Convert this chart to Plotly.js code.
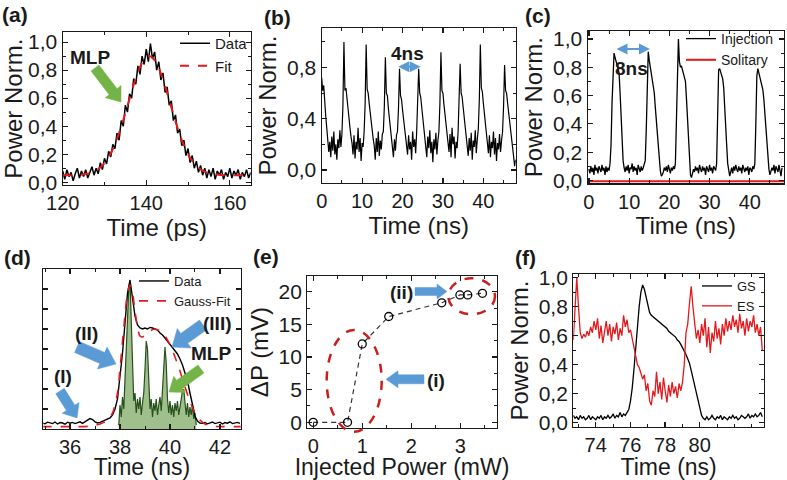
<!DOCTYPE html>
<html><head><meta charset="utf-8">
<script src="https://cdn.plot.ly/plotly-3.0.1.min.js"></script>
<style>html,body{margin:0;padding:0;background:#fff}#chart{width:787px;height:480px}</style>
</head><body><div id="chart"></div>
<script>
// ---------- DATA ----------
// (a) mode-locked pulse, time in ps, sampled every 0.5 ps from 120 ps
const aT0 = 120, aDT = 0.5;
const aData = [0.08,0.02,0.09,0.04,0.07,0.01,0.06,0.10,0.03,0.08,
 0.04,0.09,0.03,0.07,0.11,0.05,0.10,0.06,0.14,0.09,
 0.17,0.13,0.22,0.18,0.27,0.24,0.35,0.30,0.44,0.40,
 0.55,0.50,0.63,0.60,0.74,0.70,0.83,0.77,0.90,0.84,
 0.95,0.86,0.99,0.88,0.93,0.80,0.86,0.73,0.78,0.64,
 0.68,0.55,0.58,0.44,0.48,0.35,0.38,0.26,0.30,0.19,
 0.24,0.14,0.19,0.10,0.15,0.07,0.12,0.05,0.10,0.03,
 0.09,0.04,0.10,0.02,0.08,0.05,0.09,0.02,0.07,0.04,
 0.10,0.03,0.08,0.05,0.09,0.02,0.07,0.04,0.09,0.03,
 0.07];
const aFitT0 = 120, aFitDT = 1;
const aFit = [0.05,0.05,0.05,0.05,0.053,0.056,0.061,0.07,0.084,0.105,
 0.136,0.179,0.237,0.31,0.396,0.494,0.596,0.696,0.784,0.853,
 0.892,0.898,0.872,0.815,0.733,0.637,0.535,0.434,0.342,0.264,
 0.20,0.152,0.116,0.092,0.075,0.064,0.058,0.055,0.052,0.05,
 0.05,0.05,0.05,0.05,0.05,0.05];

// (b) pulse train, ns, every 0.25 ns from 0
const bT0 = 0, bDT = 0.25;
const bData = [0.72,0.62,0.66,0.50,0.42,0.33,0.25,0.14,
 0.22,0.10,0.26,0.15,0.30,0.12,0.20,0.08,0.24,0.17,0.31,0.18,
 0.28,0.50,1.00,0.62,0.64,0.55,0.47,0.40,0.33,0.26,0.21,
 0.12,0.27,0.09,0.22,0.16,0.33,0.14,0.25,0.07,0.21,0.18,
 0.30,0.52,0.98,0.63,0.60,0.52,0.44,0.37,0.30,0.24,0.19,
 0.08,0.25,0.14,0.30,0.11,0.23,0.16,0.28,
 0.30,0.50,0.88,0.60,0.58,0.48,0.40,0.33,0.25,0.20,
 0.10,0.24,0.15,0.27,
 0.30,0.48,0.79,0.58,0.55,0.47,0.40,0.33,0.26,0.21,
 0.12,0.27,0.16,0.22,0.08,0.30,0.18,0.24,0.13,
 0.30,0.50,0.79,0.60,0.57,0.49,0.41,0.34,0.27,0.21,
 0.10,0.26,0.17,0.31,0.13,0.22,0.06,0.24,0.16,0.29,0.12,0.23,
 0.30,0.52,0.92,0.62,0.60,0.51,0.43,0.36,0.29,0.22,
 0.14,0.28,0.10,0.33,0.20,0.26,0.09,0.22,0.17,
 0.30,0.50,0.83,0.60,0.57,0.49,0.41,0.34,0.27,0.21,
 0.11,0.25,0.15,0.29,0.08,0.23,0.18,0.31,0.13,0.24,
 0.32,0.55,0.98,0.64,0.61,0.52,0.44,0.36,0.29,0.22,
 0.13,0.27,0.10,0.22,0.17,0.30,0.12,0.25,0.07,0.21,0.16,0.28,0.14,0.23,
 0.30,0.50,0.82,0.62,0.60,0.52,0.45,0.38,0.31,0.25,0.18,0.10,0.03,0.08];

// (c) injection vs solitary, ns, every 0.25 ns from 0
const cT0 = 0, cDT = 0.25;
const cInjection = [0.08,0.05,0.10,0.06,0.09,0.04,0.11,0.07,0.09,0.05,0.10,0.08,0.06,0.11,0.07,0.09,0.04,0.10,0.06,0.09,0.07,0.12,
 0.25,0.55,0.82,0.90,0.87,0.84,0.82,0.80,0.76,0.62,0.42,0.25,0.14,0.09,
 0.06,0.10,0.07,0.11,0.05,0.09,0.08,0.12,0.06,0.10,0.07,0.09,0.04,0.11,0.08,0.06,0.10,0.07,0.09,0.11,0.14,
 0.35,0.72,0.91,0.85,0.80,0.76,0.72,0.68,0.62,0.52,0.42,0.32,0.22,0.14,0.07,0.03,
 0.04,0.06,0.09,0.07,0.10,0.06,0.11,0.08,0.05,0.09,0.07,0.10,0.08,0.12,
 0.40,0.85,1.00,0.84,0.80,0.81,0.78,0.77,0.74,0.70,0.58,0.42,0.26,0.12,0.04,0.02,
 0.05,0.08,0.06,0.10,0.07,0.09,0.05,0.11,0.08,0.06,0.10,0.07,0.09,0.04,0.10,0.08,0.06,0.11,0.07,0.09,0.05,0.10,0.08,0.07,0.12,
 0.45,0.78,0.79,0.76,0.74,0.72,0.66,0.55,0.40,0.25,0.12,0.05,0.03,
 0.06,0.09,0.05,0.10,0.07,0.11,0.08,0.06,0.10,0.07,0.09,0.05,0.11,0.08,0.06,0.09,0.07,0.10,0.04,0.09,0.08,0.06,0.10,0.08,0.12,
 0.40,0.74,0.79,0.76,0.74,0.71,0.68,0.64,0.57,0.47,0.36,0.25,0.15,0.08,0.04,
 0.06,0.09,0.07,0.11,0.05,0.10,0.08,0.06,0.11,0.07,0.03,0.09];
const cSolitaryT = [0, 12, 24, 36, 48.5];
const cSolitary = [-0.005, -0.005, -0.005, -0.005, -0.005];

// (d) data, Gauss fit and MLP trace, ns
const dT0 = 34.9, dDT = 0.1;
const dData = [0.03,0.026,0.034,0.029,0.027,0.035,0.025,0.032,0.03,0.024,
 0.034,0.029,0.033,0.027,0.031,0.036,0.028,0.034,0.044,0.052,
 0.047,0.036,0.03,0.033,0.038,0.042,0.048,
 0.055,0.07,0.10,0.15,0.25,0.38,0.53,0.68,0.745,0.64,
 0.565,0.52,0.505,0.50,0.505,0.50,0.508,0.505,0.50,0.495,
 0.48,0.47,0.455,0.44,0.42,0.405,0.39,0.375,0.35,0.32,
 0.28,0.24,0.18,0.12,0.065,0.04,0.03,
 0.028,0.033,0.026,0.031,0.035,0.027,0.03,0.034,0.025,0.032,0.029,0.036,0.027,0.031,0.033,0.028];
const dFitT = [34.9,36.0,36.8,37.2,37.5,37.7,37.9,38.0,38.1,38.2,38.3,38.4,38.5,38.6,38.7,38.8,38.9,39.0,39.2,39.4,39.6,39.8,40.0,40.2,40.4,40.6,40.8,41.0,41.2,41.4,41.7,42.0,42.9];
const dFit = [0.012,0.012,0.014,0.025,0.045,0.08,0.18,0.30,0.44,0.57,0.68,0.72,0.68,0.59,0.51,0.465,0.46,0.47,0.49,0.50,0.49,0.465,0.42,0.36,0.29,0.21,0.14,0.08,0.045,0.025,0.014,0.012,0.012];
const dMlpT0 = 37.95, dMlpDT = 0.05;
const dMLP = [0.02,0.12,0.06,0.16,0.10,0.25,0.38,0.55,0.70,0.74,
 0.55,0.30,0.14,0.18,0.08,0.15,0.10,0.16,0.07,0.13,
 0.18,0.30,0.44,0.40,0.22,0.10,0.15,0.06,0.13,0.09,
 0.15,0.07,0.12,0.16,0.09,0.18,0.32,0.41,0.33,0.15,
 0.08,0.14,0.07,0.12,0.06,0.13,0.09,0.14,0.07,0.11,
 0.15,0.19,0.20,0.12,0.07,0.13,0.06,0.11,0.07,0.12,
 0.05,0.08,0.02];

// (e) ΔP vs injected power
const eInjected = [0, 0.70, 1.0, 1.54, 2.62, 2.99, 3.15, 3.45];
const eDeltaP = [0, 0, 12.0, 16.2, 18.3, 19.5, 19.5, 19.75];

// (f) GS and ES, ns, every 0.1 ns
const fT0 = 72.71, fDT = 0.1;
const fTicks = [74, 76, 78, 80];
const fGS = [0.05,0.03,0.04,0.02,0.05,0.03,0.04,0.02,0.03,0.05,
 0.02,0.04,0.03,0.02,0.04,0.03,0.05,0.02,0.04,0.03,
 0.05,0.03,0.04,0.06,0.03,0.05,0.04,0.07,0.04,0.06,
 0.05,0.07,
 0.09,0.15,0.24,0.37,0.52,0.67,0.80,0.90,0.95,0.92,
 0.86,0.80,0.76,0.74,0.73,0.72,0.71,0.70,0.69,0.68,
 0.67,0.66,0.65,0.63,0.62,0.61,0.60,0.59,0.57,0.56,
 0.54,0.52,0.50,0.47,0.44,0.41,0.36,0.31,0.26,0.20,
 0.14,0.09,0.05,0.03,0.02,
 0.04,0.02,0.03,0.05,0.03,0.02,0.04,0.03,0.05,0.02,
 0.04,0.03,0.02,0.04,0.03,0.05,0.03,0.04,0.02,0.03,
 0.05,0.04,0.03,0.04,0.06,0.03,0.05,0.04,0.06,0.04,
 0.05,0.07,0.04];
const fES = [0.57,0.75,1.00,0.80,0.62,0.58,0.61,0.59,0.63,0.60,
 0.66,0.62,0.70,0.64,0.72,0.58,0.67,0.55,0.64,0.70,
 0.60,0.68,0.56,0.66,0.61,0.69,0.57,0.65,0.60,0.74,
 0.66,0.71,0.62,0.64,0.58,
 0.52,0.45,0.40,0.38,0.34,0.30,0.33,0.22,0.27,0.15,
 0.12,0.22,0.18,0.35,0.20,0.28,0.16,0.31,0.22,0.14,
 0.26,0.18,0.28,0.20,0.25,0.17,0.27,0.22,0.28,
 0.40,0.62,0.68,0.82,0.94,0.80,0.66,0.58,0.64,0.55,
 0.68,0.60,0.72,0.52,0.66,0.48,0.62,0.56,0.70,0.58,
 0.65,0.54,0.68,0.60,0.72,0.63,0.70,0.64,0.74,0.66,
 0.71,0.62,0.75,0.65,0.70,0.60,0.72,0.63,0.70,0.66,
 0.74,0.62,0.68,0.60,0.66,0.50];

// ---------- LAYOUT HELPERS ----------
const W = 787, H = 480;
const FONT = 'Arial, "Liberation Sans", sans-serif';
const INK = '#1a1a1a', RED = '#e3191c', BLUE = '#5B9BD5', GREEN = '#74B347';
const px = x => x / W, py = y => 1 - y / H;
// subplot frames in pixels: [left, top, right, bottom]
const F = {
  a: [62.7, 32.3, 250.7, 185], b: [321.7, 28.3, 515.7, 182.7], c: [587.7, 31, 784, 183.3],
  d: [43.3, 269, 240.7, 429], e: [307.3, 276, 496.7, 428], f: [573.3, 274.3, 764, 426.7]
};
const common = {showline:true, linecolor:INK, linewidth:1.2, mirror:'ticks', ticks:'inside', ticklen:5,
  tickwidth:1.2, tickcolor:INK, showgrid:false, zeroline:false, automargin:false, fixedrange:true,
  tickfont:{family:FONT, size:21, color:INK}};
const xTickFont = {family:FONT, size:20, color:INK};
const minor = d => ({ticks:'inside', ticklen:3, tickwidth:1, tickcolor:INK, dtick:d, showgrid:false});
const ttl = (t, s, sz) => ({text:t, font:{family:FONT, size:sz || 24, color:INK}, standoff:s});
function xa(f, anchor, o){ return Object.assign({}, common, {domain:[px(f[0]), px(f[2])], anchor, tickfont:xTickFont}, o); }
function ya(f, anchor, o){ return Object.assign({}, common, {domain:[py(f[3]), py(f[1])], anchor}, o); }
function leg(x, y, size){ return {x:px(x), y:py(y), xanchor:'left', yanchor:'top', bgcolor:'rgba(0,0,0,0)',
  borderwidth:0, font:{family:FONT, size:size, color:INK}, itemwidth:30, tracegroupgap:0}; }

function blockArrow(x1, y1, x2, y2, bw, hw, hl, color){
  const L = Math.hypot(x2-x1, y2-y1), ux = (x2-x1)/L, uy = (y2-y1)/L, nx = -uy, ny = ux;
  const nxp = x2 - ux*hl, nyp = y2 - uy*hl;
  const pts = [[x1+nx*bw/2, y1+ny*bw/2],[nxp+nx*bw/2, nyp+ny*bw/2],[nxp+nx*hw/2, nyp+ny*hw/2],[x2,y2],
    [nxp-nx*hw/2, nyp-ny*hw/2],[nxp-nx*bw/2, nyp-ny*bw/2],[x1-nx*bw/2, y1-ny*bw/2]];
  const path = 'M' + pts.map(p => px(p[0]).toFixed(5)+','+py(p[1]).toFixed(5)).join(' L') + ' Z';
  return {type:'path', xref:'paper', yref:'paper', path, fillcolor:color, line:{color:color, width:0.5}, layer:'above'};
}
function label(x, y, text, size, bold){
  return {xref:'paper', yref:'paper', x:px(x), y:py(y), xanchor:'center', yanchor:'middle', showarrow:false,
    text: bold ? '<b>'+text+'</b>' : text, font:{family:FONT, size:size, color:INK}};
}
function dblArrow(x1, x2, y){
  return {xref:'paper', yref:'paper', x:px(x2), y:py(y), ax:x1-x2, ay:0, text:'', showarrow:true,
    arrowside:'end+start', arrowhead:2, arrowsize:1, arrowwidth:2.2, arrowcolor:BLUE, standoff:0, startstandoff:0};
}

// ---------- TRACES ----------
const traces = [
  {x0:aT0, dx:aDT, y:aData, xaxis:'x', yaxis:'y', mode:'lines', name:'Data', legend:'legend',
   line:{color:'#000', width:1.5}},
  {x0:aFitT0, dx:aFitDT, y:aFit, xaxis:'x', yaxis:'y', mode:'lines', name:'Fit', legend:'legend',
   line:{color:RED, width:2, dash:'dash', shape:'spline'}},

  {x0:bT0, dx:bDT, y:bData, xaxis:'x2', yaxis:'y2', mode:'lines', showlegend:false,
   line:{color:'#000', width:1.2}},

  {x0:cT0, dx:cDT, y:cInjection, xaxis:'x3', yaxis:'y3', mode:'lines', name:'Injection', legend:'legend2',
   line:{color:'#000', width:1.3}},
  {x:cSolitaryT, y:cSolitary, xaxis:'x3', yaxis:'y3', mode:'lines', name:'Solitary', legend:'legend2',
   line:{color:RED, width:2}},

  {x0:dMlpT0, dx:dMlpDT, y:dMLP, xaxis:'x4', yaxis:'y4', mode:'lines', showlegend:false, fill:'tozeroy',
   fillcolor:'rgba(95,150,65,0.6)', line:{color:'#27501a', width:1.2}},
  {x0:dT0, dx:dDT, y:dData, xaxis:'x4', yaxis:'y4', mode:'lines', name:'Data', legend:'legend3',
   line:{color:'#000', width:1.4}},
  {x:dFitT, y:dFit, xaxis:'x4', yaxis:'y4', mode:'lines', name:'Gauss-Fit', legend:'legend3',
   line:{color:RED, width:1.6, dash:'dash', shape:'spline'}},

  {x:eInjected, y:eDeltaP, xaxis:'x5', yaxis:'y5', mode:'lines+markers', showlegend:false,
   line:{color:'#333', width:1.2, dash:'5px,4px'},
   marker:{symbol:'circle-open', size:8, color:'#000', line:{width:1.3}}},

  {x0:fT0, dx:fDT, y:fGS, xaxis:'x6', yaxis:'y6', mode:'lines', name:'GS', legend:'legend4',
   line:{color:'#000', width:1.3}},
  {x0:fT0, dx:fDT, y:fES, xaxis:'x6', yaxis:'y6', mode:'lines', name:'ES', legend:'legend4',
   line:{color:RED, width:1.3}}
];

// ---------- LAYOUT ----------
const layout = {
  width:W, height:H, margin:{l:0, r:0, t:0, b:0}, paper_bgcolor:'#fff', plot_bgcolor:'#fff',
  separators:',.', font:{family:FONT, color:INK}, showlegend:true,
  xaxis: xa(F.a, 'y', {range:[120,165], tick0:120, dtick:20, minor:minor(10), title:ttl('Time (ps)', 1)}),
  yaxis: ya(F.a, 'x', {range:[-0.02,1.07], tick0:0, dtick:0.2, tickformat:'.1f', minor:minor(0.1), title:ttl('Power Norm.', 3)}),
  xaxis2: xa(F.b, 'y2', {range:[0,48], tick0:0, dtick:10, minor:minor(5), title:ttl('Time (ns)', 1)}),
  yaxis2: ya(F.b, 'x2', {range:[-0.1,1.107], tick0:0, dtick:0.4, tickformat:'.1f', minor:minor(0.2), title:ttl('Power Norm.', 3)}),
  xaxis3: xa(F.c, 'y3', {range:[-0.3,48.5], tick0:0, dtick:10, minor:minor(5), title:ttl('Time (ns)', 1)}),
  yaxis3: ya(F.c, 'x3', {range:[-0.02,1.056], tick0:0, dtick:0.2, tickformat:'.1f', minor:minor(0.1), title:ttl('Power Norm.', 3)}),
  xaxis4: xa(F.d, 'y4', {range:[34.93,42.83], tick0:36, dtick:2, minor:minor(1), title:ttl('Time (ns)', 1, 23)}),
  yaxis4: ya(F.d, 'x4', {range:[0,0.8], tick0:0, dtick:0.1, showticklabels:false}),
  xaxis5: xa(F.e, 'y5', {range:[-0.12,3.74], tick0:0, dtick:1, minor:minor(0.5), title:ttl('Injected Power (mW)', 1, 23)}),
  yaxis5: ya(F.e, 'x5', {range:[-0.87,22.4], tick0:0, dtick:5, minor:minor(2.5), title:ttl('ΔP (mV)', 3)}),
  xaxis6: xa(F.f, 'y6', {range:[72.71,83.71], tickmode:'array', tickvals:fTicks, minor:{ticks:'inside', ticklen:3, tickwidth:1, tickcolor:INK, tick0:73, dtick:1}, title:ttl('Time (ns)', 1, 23)}),
  yaxis6: ya(F.f, 'x6', {range:[-0.028,1.023], tick0:0, dtick:0.2, tickformat:'.1f', minor:minor(0.1), title:ttl('Power Norm.', 3)}),
  legend: leg(175, 27, 15),
  legend2: leg(681, 23, 14),
  legend3: leg(134, 266, 13),
  legend4: leg(697, 271, 13),
  shapes: [
    blockArrow(95, 68, 121, 102, 10, 20, 13, GREEN),
    blockArrow(60, 391, 77, 418, 10, 20, 12, BLUE),
    blockArrow(77, 347, 116, 364, 12, 24, 15, BLUE),
    blockArrow(203, 325, 172, 347, 12, 24, 15, BLUE),
    blockArrow(201, 369, 169, 392, 10, 20, 13, GREEN),
    blockArrow(415, 291.5, 447, 291.5, 8, 15, 10, BLUE),
    blockArrow(424, 379.3, 386, 379.3, 9, 17, 12, BLUE),
    {type:'circle', xref:'paper', yref:'paper', x0:px(326.7), x1:px(381.7), y0:py(431.7), y1:py(330),
     line:{color:'#c81e1e', width:2.5, dash:'dash'}},
    {type:'circle', xref:'paper', yref:'paper', x0:px(448.3), x1:px(495), y0:py(314.3), y1:py(278.3),
     line:{color:'#c81e1e', width:2.5, dash:'dash'}}
  ],
  annotations: [
    label(15, 14, '(a)', 21, true), label(277, 17.5, '(b)', 21, true), label(538, 15, '(c)', 21, true),
    label(17, 257.5, '(d)', 21, true), label(266, 256.7, '(e)', 21, true), label(525, 257.5, '(f)', 21, true),
    label(90, 57, 'MLP', 19, true),
    label(407.5, 53.3, '4ns', 19, true), dblArrow(396.7, 420.7, 66.7),
    label(631, 68.3, '8ns', 19, true), dblArrow(615, 650, 49),
    label(62.5, 376, '(I)', 19, true), label(86, 333.3, '(II)', 19, true),
    label(217.5, 323.3, '(III)', 19, true), label(211, 353.3, 'MLP', 19, true),
    label(401.7, 292.7, '(ii)', 19, true), label(436, 380, '(i)', 19, true)
  ]
};

Plotly.newPlot('chart', traces, layout, {displayModeBar:false, staticPlot:true});
</script></body></html>
